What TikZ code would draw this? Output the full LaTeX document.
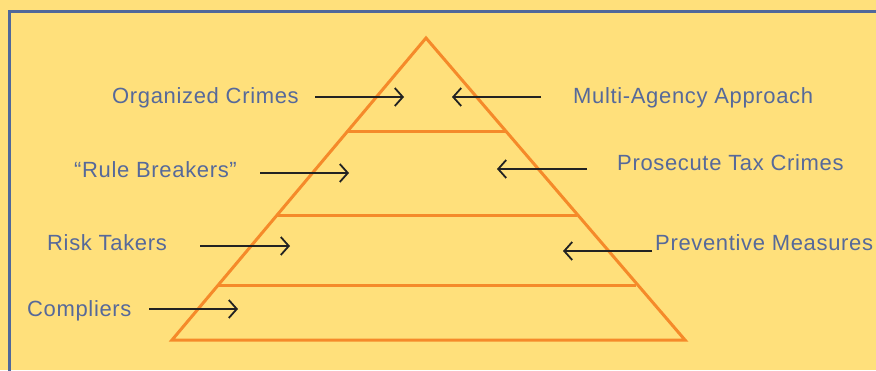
\documentclass[tikz,border=0pt]{standalone}
\usepackage{fontspec}
\setmainfont{Liberation Sans}[LetterSpace=3]
\usetikzlibrary{arrows.meta}
\definecolor{bgyel}{HTML}{FFE07B}
\definecolor{frameblue}{HTML}{50689A}
\definecolor{pyrorange}{HTML}{F58A2A}
\definecolor{txtblue}{HTML}{56699A}
\definecolor{arrowblk}{HTML}{222222}
\tikzset{
  lbl/.style={font=\fontsize{22}{24}\selectfont, text=txtblue, inner sep=0pt, anchor=base west},
  pyr/.style={draw=pyrorange, line width=3pt, line join=miter},
  arr/.style={draw=arrowblk, line width=1.8pt, -{Straight Barb[length=8pt,width=18pt,line width=1.8pt]}},
}
\begin{document}
\begin{tikzpicture}[x=1pt,y=-1pt]
\fill[bgyel] (0,0) rectangle (876,370);
\useasboundingbox (0,0) rectangle (876,370);
\draw[frameblue, line width=3pt] (9,380) -- (9,11) -- (890,11);
% pyramid
\coordinate (apex) at (426,38);
\coordinate (bl) at (172,340);
\coordinate (br) at (685,340);
\draw[pyr] (apex) -- (bl) -- (br) -- cycle;
\coordinate (l1) at (347,131); \coordinate (r1) at (507,131);
\coordinate (l2) at (277,215); \coordinate (r2) at (577,215);
\coordinate (l3) at (218,285); \coordinate (r3) at (636,285);
\draw[pyr] (l1) -- (r1);
\draw[pyr] (l2) -- (r2);
\draw[pyr] (l3) -- (r3);
% labels
\node[lbl] (oc) at (112,103) {Organized Crimes};
\node[lbl] (ma) at (573,103) {Multi-Agency Approach};
\node[lbl] (rb) at (74,177) {“Rule Breakers”};
\node[lbl] (pt) at (617,170) {Prosecute Tax Crimes};
\node[lbl] (rt) at (47,250) {Risk Takers};
\node[lbl] (pm) at (655,250) {Preventive Measures};
\node[lbl] (co) at (27,316) {Compliers};
% arrow ends
\coordinate (oc1) at (315,97); \coordinate (oc2) at (404,97);
\coordinate (ma1) at (541,97); \coordinate (ma2) at (452,97);
\coordinate (rb1) at (260,173); \coordinate (rb2) at (349,173);
\coordinate (pt1) at (587,169); \coordinate (pt2) at (497,169);
\coordinate (rt1) at (200,246); \coordinate (rt2) at (290,246);
\coordinate (pm1) at (652,251); \coordinate (pm2) at (563,251);
\coordinate (co1) at (149,309); \coordinate (co2) at (238,309);
\draw[arr] (oc1) -- (oc2);
\draw[arr] (ma1) -- (ma2);
\draw[arr] (rb1) -- (rb2);
\draw[arr] (pt1) -- (pt2);
\draw[arr] (rt1) -- (rt2);
\draw[arr] (pm1) -- (pm2);
\draw[arr] (co1) -- (co2);
\end{tikzpicture}
\end{document}
